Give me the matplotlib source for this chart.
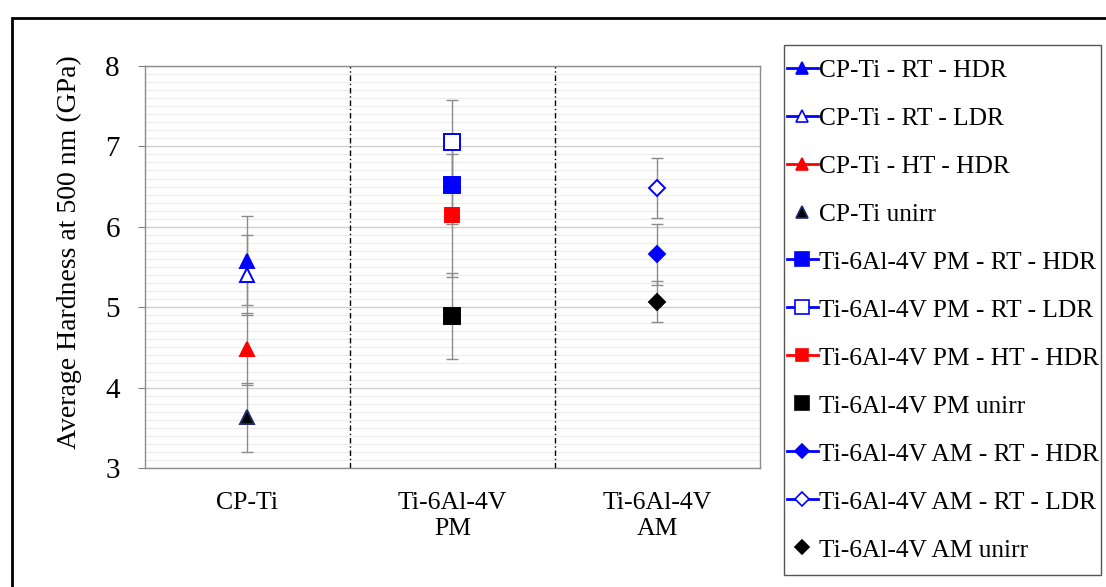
import matplotlib.pyplot as plt
from matplotlib.lines import Line2D
from matplotlib.patches import Rectangle
from matplotlib.ticker import MultipleLocator

plt.rcParams['font.family'] = ['Liberation Serif', 'DejaVu Serif']

categories = ['CP-Ti', 'Ti-6Al-4V\nPM', 'Ti-6Al-4V\nAM']

# (label, category index, mean, error)
labels = ['CP-Ti - RT - HDR', 'CP-Ti - RT - LDR', 'CP-Ti - HT - HDR', 'CP-Ti unirr',
          'Ti-6Al-4V PM - RT - HDR', 'Ti-6Al-4V PM - RT - LDR', 'Ti-6Al-4V PM - HT - HDR',
          'Ti-6Al-4V PM unirr',
          'Ti-6Al-4V AM - RT - HDR', 'Ti-6Al-4V AM - RT - LDR', 'Ti-6Al-4V AM unirr']
cat_idx = [0, 0, 0, 0, 1, 1, 1, 1, 2, 2, 2]
means = [5.58, 5.40, 4.48, 3.63, 6.52, 7.06, 6.14, 4.89, 5.66, 6.48, 5.07]
errors = [0.55, 0.50, 0.45, 0.43, 0.48, 0.52, 0.77, 0.53, 0.38, 0.37, 0.26]

# styling per series
markers = ['^', '^', '^', '^', 's', 's', 's', 's', 'D', 'D', 'D']
faces = ['blue', 'white', 'red', 'black', 'blue', 'white', 'red', 'black', 'blue', 'white', 'black']
edges = ['blue', 'blue', 'red', '#1f2a6b', 'blue', 'blue', 'red', 'black', 'blue', 'blue', 'black']
sizes = [10, 10, 10, 10, 11, 11, 9.5, 11, 8, 8, 8]
has_line = [True, True, True, False, True, True, True, False, True, True, False]

W, H = 1106, 587
fig = plt.figure(figsize=(W / 100, H / 100), dpi=100)
ax = fig.add_axes([0.131, 0.2027, 0.556, 0.685])

positions = list(range(1, len(categories) + 1))
for i in range(len(labels)):
    x = positions[cat_idx[i]]
    ax.errorbar(x, means[i], yerr=errors[i], fmt='none', ecolor='#8c8c8c',
                elinewidth=1, capsize=4, capthick=1, zorder=3)
    ax.plot(x, means[i], marker=markers[i], markersize=sizes[i],
            markerfacecolor=faces[i], markeredgecolor=edges[i],
            markeredgewidth=1.4, linestyle='none', zorder=4)

ax.set_xlim(0.5, 3.5)
ax.set_ylim(3, 8)
ax.yaxis.set_major_locator(MultipleLocator(1))
ax.yaxis.set_minor_locator(MultipleLocator(0.1))
ax.grid(axis='y', which='minor', color='#ececec', linewidth=0.8)
ax.grid(axis='y', which='major', color='#cfcfcf', linewidth=1)
ax.set_axisbelow(True)

for xd in [1.5, 2.5]:
    ax.axvline(xd, color='black', linewidth=1, linestyle=(0, (4, 2, 1, 2)), zorder=2)

ax.set_xticks(positions)
ax.set_xticklabels(categories, fontsize=18.5, linespacing=1.25)
ax.tick_params(axis='x', length=0, pad=17)
ax.tick_params(axis='y', which='major', labelsize=21, length=5, direction='out', color='#808080', pad=13)
ax.tick_params(axis='y', which='minor', length=0)
for s in ax.spines.values():
    s.set_color('#8c8c8c')
    s.set_linewidth(1)
ax.set_ylabel('Average Hardness at 500 nm (GPa)', fontsize=20)
ax.yaxis.set_label_coords(-0.102, 0.537)

handles = []
for i in range(len(labels)):
    handles.append(Line2D([], [], color=edges[i] if faces[i] != 'black' else 'black',
                          linestyle='-' if has_line[i] else 'none', linewidth=2,
                          marker=markers[i], markersize=sizes[i] * 0.88,
                          markerfacecolor=faces[i], markeredgecolor=edges[i],
                          markeredgewidth=1.2))
leg = fig.legend(handles, labels, loc='upper left', bbox_to_anchor=(787 / W, 1 - 58 / H),
                 fontsize=18.3, frameon=False,
                 handlelength=1.2, handletextpad=0.05, labelspacing=0.93,
                 borderpad=0, borderaxespad=0, handleheight=0.9)

# legend box
fig.patches.append(Rectangle((784 / W, 1 - 575 / H), (1101 - 784) / W, (575 - 45) / H,
                             transform=fig.transFigure, fill=False,
                             edgecolor='#555555', linewidth=1))

# outer frame
fig.patches.append(Rectangle((12 / W, -0.01), 1.0, 1 - 18 / H + 0.01,
                             transform=fig.transFigure, fill=False,
                             edgecolor='black', linewidth=2))

fig.savefig('out.png', dpi=100)
